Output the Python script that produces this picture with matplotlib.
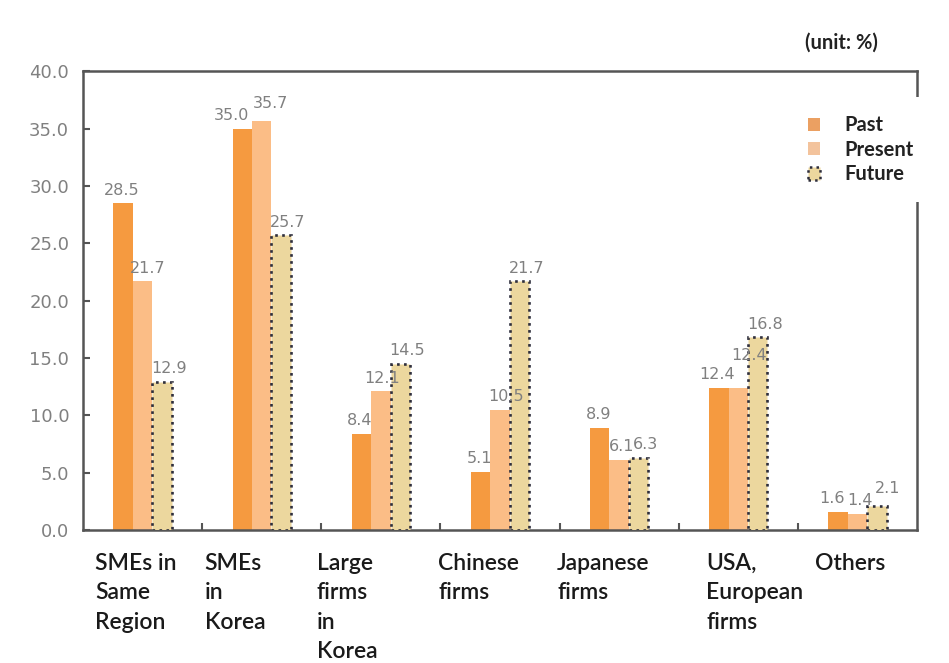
import matplotlib
matplotlib.use('Agg')
import matplotlib.pyplot as plt
from matplotlib.patches import Patch
import numpy as np

# share of partner types (%), by period
categories = ["SMEs in\nSame\nRegion", "SMEs\nin\nKorea", "Large\nfirms\nin\nKorea",
              "Chinese\nfirms", "Japanese\nfirms", "USA,\nEuropean\nfirms", "Others"]
past = [28.5, 35.0, 8.4, 5.1, 8.9, 12.4, 1.6]
present = [21.7, 35.7, 12.1, 10.5, 6.1, 12.4, 1.4]
future = [12.9, 25.7, 14.5, 21.7, 6.3, 16.8, 2.1]
yticks = [0, 5, 10, 15, 20, 25, 30, 35, 40]

c_past = '#f59a40'
c_present = '#fbbd86'
c_future = '#ecd79e'
c_dots = '#2e2e3c'
c_text = '#808080'
c_axis = '#555555'

fig = plt.figure(figsize=(9.49, 6.63), dpi=100)
ax = fig.add_axes([0.0875, 0.2006, 0.8788, 0.6920])

x = np.arange(len(categories))
w = 0.163

b1 = ax.bar(x - w, past, w, color=c_past, zorder=2)
b2 = ax.bar(x, present, w, color=c_present, zorder=2)
b3 = ax.bar(x + w, future, w, color=c_future, edgecolor=c_dots,
            linestyle=':', linewidth=1.9, zorder=3)

# label nudges (points), keyed by (category, series), where values would collide
nudge = {(1, 0): (-7, 0), (1, 1): (2, 3), (2, 1): (-3, 0),
         (5, 1): (4, 14), (4, 1): (-2, 0),
         (6, 0): (-3, 0), (6, 1): (-2, 0), (6, 2): (3, 3)}

# value labels above each bar
for k, (bars, vals, dx) in enumerate(((b1, past, -1), (b2, present, 4), (b3, future, 5))):
    for i, (b, v) in enumerate(zip(bars, vals)):
        ex, ey = nudge.get((i, k), (0, 0))
        ax.annotate('%.1f' % v, (b.get_x() + b.get_width() / 2, v),
                    xytext=(dx + ex, 4 + ey), textcoords='offset points',
                    ha='center', va='bottom', fontsize=11.5, color=c_text)

ax.set_xlim(-0.5, len(categories) - 0.5)
ax.set_ylim(0, 40)
ax.set_yticks(yticks)
ax.set_yticklabels(['%.1f' % t for t in yticks], fontsize=13, color=c_text)
ax.tick_params(axis='y', direction='in', length=5, width=1.5, color=c_axis, pad=10)

# category separators on the x axis
ax.set_xticks(np.arange(len(categories) - 1) + 0.5)
ax.set_xticklabels([])
ax.tick_params(axis='x', direction='in', length=5, width=1.5, color=c_axis)

for s in ax.spines.values():
    s.set_color(c_axis)
    s.set_linewidth(1.8)

# category names, left aligned under each group
lab_dx = [-0.40, -0.48, -0.54, -0.52, -0.52, -0.27, -0.36]
for i, (name, dx) in enumerate(zip(categories, lab_dx)):
    ax.text(i + dx, -0.05, name, transform=ax.get_xaxis_transform(),
            ha='left', va='top', fontsize=16.5, family='Lato', weight='semibold',
            color='#1a1a1a', linespacing=1.5)

handles = [Patch(facecolor='#eba062', edgecolor='none', label='Past'),
           Patch(facecolor='#f3c39c', edgecolor='none', label='Present'),
           Patch(facecolor=c_future, edgecolor=c_dots, linestyle=':',
                 linewidth=1.8, label='Future')]
leg = ax.legend(handles=handles, loc='upper right', bbox_to_anchor=(1.03, 0.965),
                frameon=True, facecolor='white', edgecolor='none', framealpha=1,
                handlelength=0.6, handleheight=0.6, handletextpad=1.2,
                labelspacing=0.22, borderpad=0.9, fancybox=False,
                prop={'family': 'Lato', 'weight': 'bold', 'size': 14.5})
for t in leg.get_texts():
    t.set_color('#222222')
leg.set_zorder(10)

fig.text(0.848, 0.935, '(unit: %)', fontsize=14.5, family='Lato', weight='bold',
         color='#222222', ha='left', va='center')

fig.savefig('out.png', dpi=100)
